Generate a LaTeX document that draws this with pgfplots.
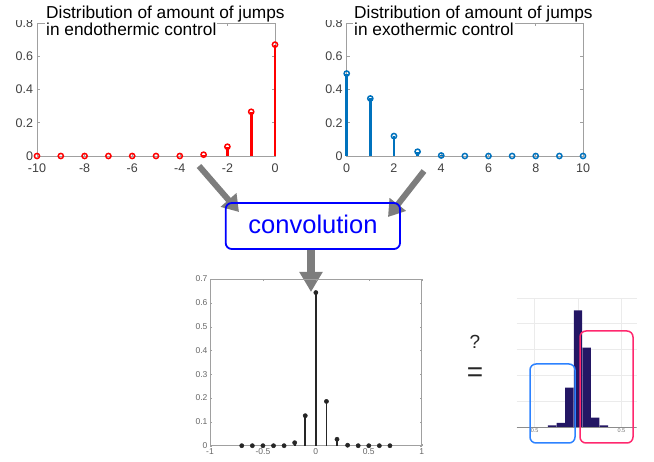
\documentclass[border=0pt]{standalone}
\usepackage{fontspec}
\setmainfont{Liberation Sans}
\usepackage{pgfplots}
\pgfplotsset{compat=1.18}
\usetikzlibrary{arrows.meta}
\definecolor{mblue}{RGB}{0,114,189}
\definecolor{axgray}{RGB}{160,160,160}
\definecolor{navy}{RGB}{35,22,100}
\definecolor{boxblue}{RGB}{45,130,255}
\definecolor{boxpink}{RGB}{255,40,110}
\definecolor{arrgray}{RGB}{125,125,125}
\definecolor{convblue}{RGB}{0,0,255}
\pgfplotsset{
  topstem/.style={scale only axis, width=236pt, height=133pt, anchor=south west,
    ymin=0, ymax=0.8, ytick={0,0.2,0.4,0.6,0.8}, clip=false,
    axis line style={axgray, line width=0.8pt},
    tick style={axgray, line width=0.6pt}, major tick length=3pt, tick align=inside,
    ticklabel style={font=\fontsize{12.5}{13}\selectfont, text=black!75},
    xticklabel style={yshift=-4pt}, yticklabel style={xshift=-0.5pt},
    /pgf/number format/assume math mode=true},
  stem/.style={ycomb, #1, line width=2.6pt, mark=o, mark size=2.6pt,
    mark options={line width=1.5pt, fill=white, draw=#1}}
}
\tikzset{ttl/.style={anchor=base west, font=\fontsize{17.3}{18}\selectfont, inner sep=1pt, fill=white}}
\begin{document}
\begin{tikzpicture}
\path[use as bounding box] (0,0) rectangle (654pt,-462pt);

% ---- endothermic
\begin{axis}[topstem, at={(37pt,-156pt)}, width=238pt, xmin=-10, xmax=0, xtick={-10,-8,-6,-4,-2,0}]
\addplot[stem=red]
coordinates {(-10,0)(-9,0)(-8,0)(-7,0)(-6,0)(-5,0)(-4,0)(-3,0.008)(-2,0.056)(-1,0.266)(0,0.67)};
\end{axis}
\fill[white] (10pt,0pt) rectangle (45pt,-20.5pt);
\node[ttl] at (45pt,-18.3pt) {Distribution of amount of jumps};
\node[ttl] at (45pt,-36pt) {in endothermic control};

% ---- exothermic
\begin{axis}[topstem, at={(346.7pt,-156pt)}, width=236.3pt, xmin=0, xmax=10, xtick={0,2,4,6,8,10}]
\addplot[stem=mblue]
coordinates {(0,0.496)(1,0.346)(2,0.12)(3,0.026)(4,0.003)(5,0)(6,0)(7,0)(8,0)(9,0)(10,0)};
\end{axis}
\fill[white] (320pt,0pt) rectangle (353pt,-20.5pt);
\node[ttl] at (353pt,-18.3pt) {Distribution of amount of jumps};
\node[ttl] at (353pt,-36pt) {in exothermic control};

% ---- arrows and convolution box
\draw[arrgray, line width=6pt, -{Triangle[width=20pt,length=16pt]}] (199pt,-166pt) -- (239pt,-212pt);
\draw[arrgray, line width=6pt, -{Triangle[width=20pt,length=16pt]}] (424pt,-171pt) -- (388pt,-217pt);
\draw[arrgray, line width=8pt, -{Triangle[width=22pt,length=20pt]}] (311pt,-249pt) -- (311pt,-292pt);
\draw[convblue, line width=1.8pt, rounded corners=6pt] (225.7pt,-203pt) rectangle (400pt,-249pt);
\node[convblue, font=\fontsize{25.5}{26}\selectfont, anchor=base] at (313pt,-234pt) {convolution};

% ---- convolution result
\begin{axis}[scale only axis, width=211.7pt, height=166.7pt, at={(210pt,-445.7pt)}, anchor=south west,
  xmin=-1, xmax=1, ymin=0, ymax=0.7, xtick={-1,-0.5,0,0.5,1}, ytick={0,0.1,0.2,0.3,0.4,0.5,0.6,0.7},
  clip=false, axis line style={axgray, line width=0.7pt}, tick style={axgray}, major tick length=2pt, tick align=inside,
  ticklabel style={font=\fontsize{8.5}{9}\selectfont, text=black!60},
  xticklabel style={yshift=1pt}, yticklabel style={xshift=1pt},
  /pgf/number format/assume math mode=true]
\addplot[ycomb, black!85, line width=1.8pt, mark=*, mark size=2.1pt, mark options={line width=0.5pt}]
coordinates {(-0.7,0)(-0.6,0)(-0.5,0)(-0.4,0)(-0.3,0)(-0.2,0.0126)(-0.1,0.126)(0,0.643)(0.1,0.186)(0.2,0.027)(0.3,0.002)(0.4,0)(0.5,0)(0.6,0)(0.7,0)};
\end{axis}

% ---- question
\node[font=\fontsize{19}{20}\selectfont, text=black!85] at (475pt,-342pt) {?};
\node[font=\fontsize{28}{28}\selectfont, text=black!85] at (475pt,-375pt) {=};

% ---- histogram
\begin{axis}[scale only axis, width=120pt, height=129pt, at={(516.7pt,-427pt)}, anchor=south west,
  xmin=-0.707, xmax=0.677, ymin=0, ymax=5, axis line style={draw=none}, tick style={draw=none},
  grid=major, major grid style={black!8, line width=0.7pt},
  xtick={-0.5,0,0.5}, xticklabels={0.5,,0.5}, ytick={0,1,2,3,4,5}, yticklabels={},
  ticklabel style={font=\fontsize{5.5}{6}\selectfont, text=black!55}, xticklabel style={yshift=2pt}]
\addplot[ybar, bar width=0.095, fill=navy, draw=none]
coordinates {(-0.3,0.065)(-0.2,0.156)(-0.1,1.53)(0,4.52)(0.1,3.08)(0.2,0.36)(0.3,0.065)};
\draw[black!45, line width=0.7pt] (axis cs:-0.707,0) -- (axis cs:0.677,0);
\end{axis}
\draw[boxblue, line width=1.5pt, rounded corners=6pt] (530pt,-364pt) rectangle (575pt,-443pt);
\draw[boxpink, line width=1.5pt, rounded corners=6pt] (580pt,-331pt) rectangle (633pt,-443pt);
\end{tikzpicture}
\end{document}
